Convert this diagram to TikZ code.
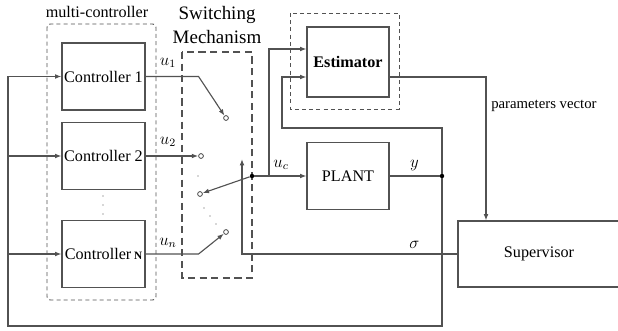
\documentclass[tikz,border=0pt]{standalone}
\usepackage{fontspec}
\setmainfont{Liberation Serif}
\usepackage{xcolor}
\usetikzlibrary{arrows.meta,positioning,calc}

\definecolor{wire}{gray}{0.32}

\begin{document}
\begin{tikzpicture}[
    x=0.25mm, y=-0.25mm,
    font=\fontsize{11.5}{13}\selectfont,
    >={Latex[length=1.6mm,width=1.2mm]},
    line/.style={draw=wire, line width=0.8pt},
    block/.style={draw=wire, line width=0.8pt, align=center, inner sep=0pt,
                  minimum width=20.75mm, minimum height=16.75mm},
    group/.style={draw=wire, line width=0.7pt, dash pattern=on 1mm off 0.8mm},
    contact/.style={circle, draw=wire, fill=white, line width=0.6pt,
                    inner sep=0pt, minimum size=1.2mm},
    junction/.style={circle, fill=black, inner sep=0pt, minimum size=1.1mm},
    lbl/.style={font=\fontsize{12}{14}\selectfont},
]
\useasboundingbox (0,0) rectangle (618,331);

% --- Multi-controller bank (left) ---
\node[block] (ctrl1) at (103.5,76.5) {Controller 1};
\node[block] (ctrl2) at (103.5,156)  {Controller 2};
\node[block] (ctrlN) at (103.5,254)  {Controller\,{\bfseries\fontsize{8}{9}\selectfont N}};
\foreach \y in {196,205,214} \fill[wire] (103,\y) circle (0.45pt);
\draw[group, rounded corners=0.8mm] (47,24) rectangle (156,300);
\node (mctitle) at (97,12) {multi-controller};

% --- Switching mechanism ---
\node[align=center, font=\fontsize{13.5}{17}\selectfont] (swtitle) at (217,25) {Switching\\Mechanism};
\draw[draw=wire, line width=1pt, dash pattern=on 1.8mm off 1.1mm] (182,52) rectangle (252,278);
\node[contact] (c1) at (226,118) {};
\node[contact] (c2) at (201,156) {};
\node[contact] (cc) at (200,194) {};
\node[contact] (cN) at (226,232) {};
\node[junction] (hub) at (252,176) {};
\foreach \p in {(198,176),(204,208),(210,216),(216,224)} \fill[wire] \p circle (0.5pt);

\draw[line,->] (ctrl1.east) -- ++(53,0) -- (c1);
\draw[line,->] (ctrl2.east) -- (c2);
\draw[line,->] (ctrlN.east) -- ++(53,0) -- (cN);
\draw[line,->] (hub) -- (cc);
\node[lbl] at (168,63)  {$u_1$};
\node[lbl] at (168,142) {$u_2$};
\node[lbl] at (168,243) {$u_n$};

% --- Plant and estimator ---
\node[block, minimum width=20.5mm] (plant) at (348,176) {PLANT};
\node[block, minimum width=20.5mm, minimum height=17.5mm,
      font=\bfseries\fontsize{11.5}{13}\selectfont] (est) at (348,62) {Estimator};
\draw[group] (290,13) rectangle (399,109);

\draw[line,->] (hub) -- (plant.west);
\node[lbl] at (281,165) {$u_c$};
\coordinate (tap) at (269,176);
\draw[line,->] (tap) |- ([yshift=3.25mm]est.west);

\node[junction] (yout) at (442,176) {};
\draw[line] (plant.east) -- node[lbl, above]{$y$} (yout);
\coordinate (ytap) at (282,128);
\draw[line,->] (yout) |- (ytap) |- ([yshift=-3.75mm]est.west);

% --- Supervisor ---
\node[block, minimum width=40.5mm, minimum height=16.5mm] (sup) at (539,254) {Supervisor};
\draw[line,->] ([yshift=-3.75mm]est.east) -| node[pos=0.6, right, font=\fontsize{10.5}{12}\selectfont]{parameters vector} ([xshift=-13.25mm]sup.north);
\coordinate (swctl) at (242,159);
\draw[line,->] (sup.west) -| node[lbl, pos=0.1, above]{$\sigma$} (swctl);

% --- Output feedback to all controllers ---
\coordinate (fbl) at (8,326);
\draw[line] (yout) |- (fbl) -- (fbl |- ctrl1.west);
\foreach \c in {ctrl1,ctrl2,ctrlN}
  \draw[line,->] (fbl |- \c.west) -- (\c.west);

\end{tikzpicture}
\end{document}
